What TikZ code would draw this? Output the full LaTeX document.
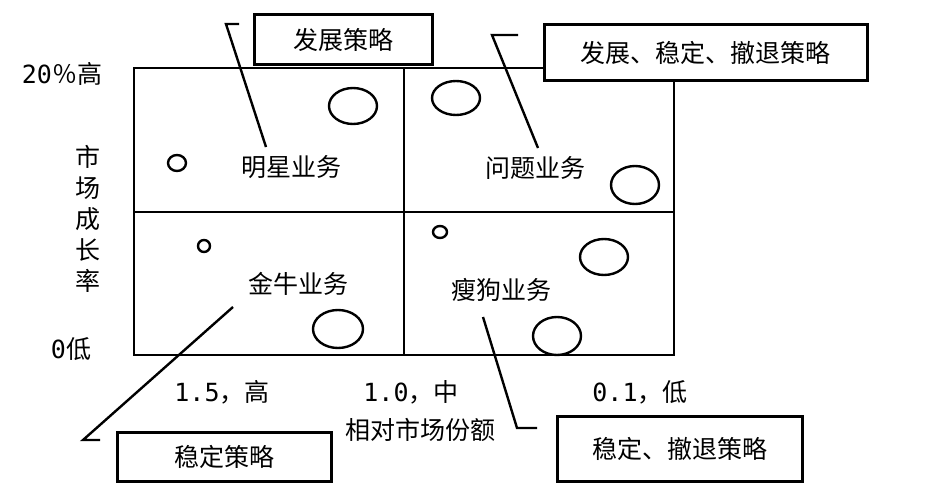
\documentclass[tikz,border=0pt]{standalone}
\usepackage{fontspec}
\setmainfont{Noto Sans CJK SC}
\newfontfamily\numfont{DejaVu Sans Mono}
\usetikzlibrary{positioning, calc}

\begin{document}
\begin{tikzpicture}[
    x=1pt, y=-1pt,
    font=\fontsize{25}{31}\selectfont,
    grid/.style={draw=black, line width=1.4pt},
    stratbox/.style={draw=black, line width=3pt, fill=white, inner sep=0pt, outer sep=0pt, align=center},
    bizlabel/.style={inner sep=0pt, text=black},
    axislabel/.style={inner sep=0pt, text=black, align=center},
    bubble/.style={draw=black, line width=2.4pt},
    leader/.style={draw=black, line width=2.4pt}
]
\useasboundingbox (0,0) rectangle (931,497);

% Matrix frame
\coordinate (nw) at (134,68);
\coordinate (se) at (674,355);
\coordinate (midx) at (404,0);
\coordinate (midy) at (0,212);
\draw[grid] (nw) rectangle (se);
\draw[grid] (nw |- midy) -- (se |- midy);
\draw[grid] (midx |- nw) -- (midx |- se);

% Quadrant labels
\node[bizlabel] (star) at (291,167) {明星业务};
\node[bizlabel] (question) at (535,168) {问题业务};
\node[bizlabel] (cow) at (298,284) {金牛业务};
\node[bizlabel] (dog) at (501,290) {瘦狗业务};

% Business bubbles
\draw[bubble] (353,106) ellipse [x radius=24pt, y radius=18pt];
\draw[bubble] (177,163) ellipse [x radius=9pt, y radius=8pt];
\draw[bubble] (456,98) ellipse [x radius=24pt, y radius=17pt];
\draw[bubble] (635,185) ellipse [x radius=24pt, y radius=19pt];
\draw[bubble] (204,246) ellipse [x radius=6pt, y radius=6pt];
\draw[bubble] (338,329) ellipse [x radius=25pt, y radius=19pt];
\draw[bubble] (440,232) ellipse [x radius=7pt, y radius=6pt];
\draw[bubble] (604,257) ellipse [x radius=24pt, y radius=18pt];
\draw[bubble] (557,336) ellipse [x radius=24pt, y radius=19pt];

% Strategy boxes
\node[stratbox, minimum width=178pt, minimum height=50pt] (grow) at (343,40) {发展策略};
\node[stratbox, minimum width=323pt, minimum height=56pt] (mixed) at (705.5,53) {发展、稳定、撤退策略};
\node[stratbox, minimum width=214pt, minimum height=49pt] (hold) at (224,456.5) {稳定策略};
\node[stratbox, minimum width=245pt, minimum height=65pt] (exit) at (679.5,448.5) {稳定、撤退策略};

% Axis labels
\node[axislabel] (ytop) at (62,74) {{\numfont 20}％高};
\node[axislabel] (ybot) at (71,349) {{\numfont 0}低};
\node[axislabel] (ytitle) at (88,219) {市\\场\\成\\长\\率};
\node[axislabel] (xhigh) at (222,392) {{\numfont 1.5}，高};
\node[axislabel] (xmid) at (411,392) {{\numfont 1.0}，中};
\node[axislabel] (xlow) at (640,392) {{\numfont 0.1}，低};
\node[axislabel] (xtitle) at (420,430) {相对市场份额};

% Leader lines (hooked ends)
\coordinate (hookA) at (226,24);
\coordinate (hookB) at (492,35);
\coordinate (hookC) at (83,440);
\coordinate (hookD) at (517,428);
\draw[leader] ($(hookA)+(13,0)$) -- (hookA) -- (266,147);
\draw[leader] ($(hookB)+(26,0)$) -- (hookB) -- (538,148);
\draw[leader] (233,307) -- (hookC) -- ++(17,0);
\draw[leader] (483,317) -- (hookD) -- ++(20,0);

\end{tikzpicture}
\end{document}
